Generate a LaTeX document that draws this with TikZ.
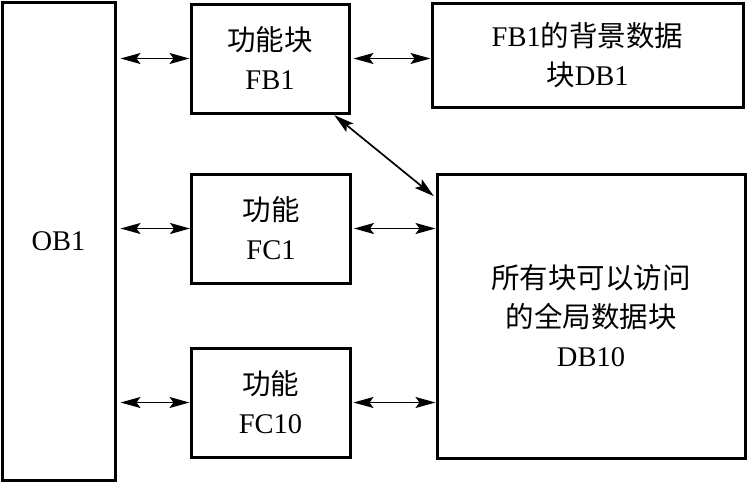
\documentclass[tikz,border=0pt]{standalone}
\usepackage{fontspec}
\setmainfont{Liberation Serif}
\newfontfamily\cjk{Noto Sans CJK SC}
\newcommand{\zh}[1]{{\cjk #1}}
\usetikzlibrary{arrows.meta}

\begin{document}
\begin{tikzpicture}[
  x=1pt, y=-1pt,
  blk/.style={draw, line width=3pt, inner sep=0pt, align=center,
              font=\fontsize{28.5}{39}\selectfont},
  lnk/.style={line width=1.7pt, {Stealth[length=20pt,width=11pt,inset=4pt]}-{Stealth[length=20pt,width=11pt,inset=4pt]}}
]
\useasboundingbox (0,0) rectangle (747,483);

% ── blocks ───────────────────────────────────────────────────────────
\node[blk, minimum width=113pt, minimum height=478pt] (ob1)  at (58.5,241)  {OB1};
\node[blk, minimum width=158pt, minimum height=109pt] (fb1)  at (270,58.5)  {\zh{功能块}\\FB1};
\node[blk, minimum width=311pt, minimum height=104pt] (db1)  at (587.5,55)  {FB1\zh{的背景数据}\\\zh{块}DB1};
\node[blk, minimum width=159pt, minimum height=109pt] (fc1)  at (271,228.5) {\zh{功能}\\FC1};
\node[blk, minimum width=159pt, minimum height=109pt] (fc10) at (270.5,402.5){\zh{功能}\\FC10};
\node[blk, minimum width=308pt, minimum height=284pt] (db10) at (591,316)   {\zh{所有块可以访问}\\\zh{的全局数据块}\\DB10};

% ── links to OB1 ─────────────────────────────────────────────────────
\draw[lnk, shorten <=4pt] (ob1.east |- fb1.west) -- (fb1.west);
\draw[lnk, shorten <=4pt] (ob1.east |- fc1.west) -- (fc1.west);
\draw[lnk, shorten <=4pt] (ob1.east |- fc10.west) -- (fc10.west);

% ── links to the data blocks ─────────────────────────────────────────
\draw[lnk, shorten <=3pt] (fb1.east) -- (fb1.east -| db1.west);
\draw[lnk, shorten <=2pt] (fc1.east) -- (fc1.east -| db10.west);
\draw[lnk, shorten <=2pt] (fc10.east) -- (fc10.east -| db10.west);
\draw[lnk, shorten <=1pt, shorten >=2pt] ([xshift=-17pt]fb1.south east) -- ([yshift=-25pt]db10.north west);

\end{tikzpicture}
\end{document}
